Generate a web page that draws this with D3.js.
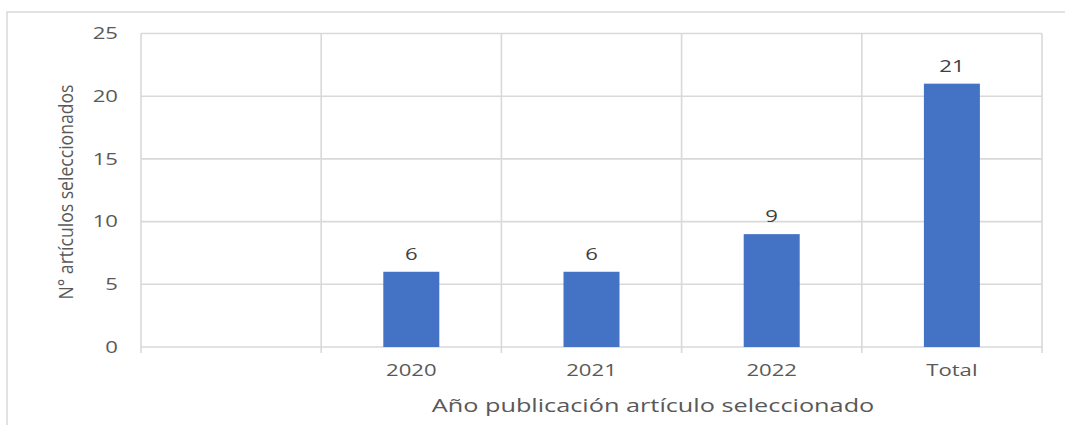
<!DOCTYPE html>
<html>
<head>
<meta charset="utf-8">
<script src="https://cdn.jsdelivr.net/npm/d3@7"></script>
<style>
  body { margin: 0; background: #fff; }
  svg { display: block; font-family: "Open Sans", sans-serif; }
</style>
</head>
<body>
<svg id="chart"></svg>
<script>
var categories = ["", "2020", "2021", "2022", "Total"]
var values = [null, 6, 6, 9, 21]
var yTicks = [0, 5, 10, 15, 20, 25]
var xTitle = "Año publicación artículo seleccionado"
var yTitle = "N° artículos seleccionados"

var outerWidth = 1065, outerHeight = 425
var margins = {top: 33.5, right: 23, bottom: 78, left: 141}
var innerWidth = outerWidth - margins.left - margins.right
var innerHeight = outerHeight - margins.top - margins.bottom
var gridColor = '#d9d9d9'
var textColor = '#595959'
var stretch = 1.3  // the picture is widened, text with it

var svg = d3.select('svg#chart')
    .attr('width', outerWidth)
    .attr('height', outerHeight)

// outer frame (top and left edges only visible)
svg.append('path')
    .attr('d', 'M7,425 V12 H1065')
    .attr('fill', 'none')
    .attr('stroke', gridColor)
    .attr('stroke-width', 1.5)

var xScale = d3.scaleBand()
    .domain(categories)
    .range([margins.left, margins.left + innerWidth])
    .padding(0)

var yScale = d3.scaleLinear()
    .domain([0, 25])
    .range([margins.top + innerHeight, margins.top])

var y0 = yScale(0)

// horizontal gridlines
svg.selectAll('.hgrid')
    .data(yTicks)
    .join('line')
    .attr('class', 'hgrid')
    .attr('x1', xScale.range()[0])
    .attr('x2', xScale.range()[1])
    .attr('y1', d => yScale(d))
    .attr('y2', d => yScale(d))
    .attr('stroke', gridColor)
    .attr('stroke-width', 1.6)

// vertical gridlines at category boundaries, reaching below the axis as ticks
var bounds = categories.map(c => xScale(c)).concat([xScale.range()[1]])
svg.selectAll('.vgrid')
    .data(bounds)
    .join('line')
    .attr('class', 'vgrid')
    .attr('x1', d => d)
    .attr('x2', d => d)
    .attr('y1', margins.top)
    .attr('y2', y0 + 6)
    .attr('stroke', gridColor)
    .attr('stroke-width', 1.6)

// y tick labels
svg.selectAll('.ytick')
    .data(yTicks)
    .join('text')
    .attr('class', 'ytick')
    .attr('x', margins.left - 23)
    .attr('y', d => yScale(d))
    .attr('dy', '0.34em')
    .attr('text-anchor', 'end')
    .attr('fill', textColor)
    .attr('font-size', 17)
    .text(d => d)

// x tick labels
svg.selectAll('.xtick')
    .data(categories.filter(c => c !== ""))
    .join('text')
    .attr('class', 'xtick')
    .attr('x', d => xScale(d) + xScale.bandwidth() / 2)
    .attr('y', y0 + 29)
    .attr('text-anchor', 'middle')
    .attr('fill', textColor)
    .attr('font-size', 17)
    .text(d => d)

// bars
var barData = categories.map((c, i) => ({cat: c, value: values[i]})).filter(d => d.value != null)
var barWidth = 56

svg.selectAll('.bar')
    .data(barData)
    .join('rect')
    .attr('class', 'bar')
    .attr('x', d => xScale(d.cat) + xScale.bandwidth() / 2 - barWidth / 2)
    .attr('width', barWidth)
    .attr('y', d => yScale(d.value))
    .attr('height', d => y0 - yScale(d.value))
    .attr('fill', '#4472c4')

svg.selectAll('.bar-label')
    .data(barData)
    .join('text')
    .attr('class', 'bar-label')
    .attr('x', d => xScale(d.cat) + xScale.bandwidth() / 2)
    .attr('y', d => yScale(d.value) - 12)
    .attr('text-anchor', 'middle')
    .attr('fill', '#404040')
    .attr('font-size', 17)
    .text(d => d.value)

// axis titles
svg.append('text')
    .attr('class', 'x-title')
    .attr('x', 653)
    .attr('y', 412)
    .attr('text-anchor', 'middle')
    .attr('fill', textColor)
    .attr('font-size', 19)
    .text(xTitle)

var yTitleLen = 215
svg.append('text')
    .attr('class', 'y-title')
    .attr('x', 0)
    .attr('y', 0)
    .attr('text-anchor', 'start')
    .attr('fill', textColor)
    .attr('font-size', 19.5)
    .attr('textLength', yTitleLen)
    .attr('lengthAdjust', 'spacingAndGlyphs')
    .attr('transform', 'translate(73,' + (192 + yTitleLen / 2) + ') rotate(-90)')
    .text(yTitle)

// widen horizontal text to match the stretched picture
svg.selectAll('.ytick, .xtick, .bar-label, .x-title').each(function() {
    var w = this.getComputedTextLength()
    var s = this.classList.contains('x-title') ? 1.33 : stretch
    d3.select(this)
        .attr('textLength', w * s)
        .attr('lengthAdjust', 'spacingAndGlyphs')
})
</script>
</body>
</html>
